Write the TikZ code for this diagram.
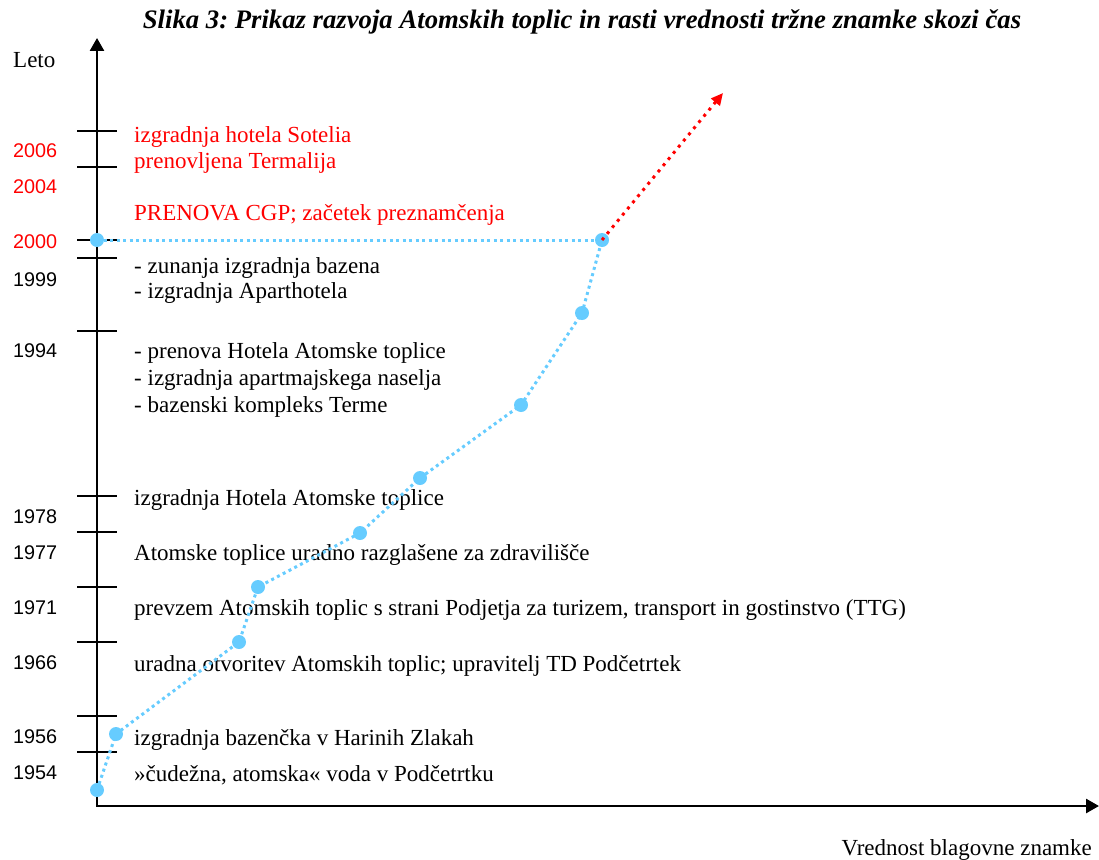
\documentclass[tikz,border=0pt]{standalone}
\usepackage{fontspec}
\setmainfont{Liberation Serif}
\newfontfamily\yearfont{Liberation Sans}
\usepackage{xcolor}
\usetikzlibrary{arrows.meta}
\frenchspacing
\definecolor{lightblue}{RGB}{102,204,255}
\tikzstyle{event}  = [anchor=base west, inner sep=0pt, font=\fontsize{23}{26}\selectfont]
\tikzstyle{year}   = [anchor=base west, inner sep=0pt, font=\yearfont\fontsize{19.8}{22}\selectfont]
\tikzstyle{tick}   = [line width=2pt]
\tikzstyle{axis}   = [line width=2.6pt, {Triangle[width=14pt,length=13pt]}-{Triangle[width=14pt,length=13pt]}]
\tikzstyle{growth} = [lightblue, line width=3pt, dash pattern=on 3pt off 3.5pt]
\tikzstyle{trend}  = [red, line width=3pt, dash pattern=on 3pt off 5pt, -{Triangle[width=11pt,length=12pt]}]
\tikzstyle{point}  = [circle, fill=lightblue, inner sep=0pt, minimum size=14pt]

\begin{document}
\begin{tikzpicture}[x=1pt,y=-1pt]
    \useasboundingbox (0,0) rectangle (1099,859);

    \node[anchor=base, inner sep=0pt, font=\bfseries\itshape\fontsize{26.7}{30}\selectfont] (title) at (582,29)
        {Slika 3: Prikaz razvoja Atomskih toplic in rasti vrednosti tržne znamke skozi čas};

    % axes
    \coordinate (o) at (97,806);
    \coordinate (ytop) at (97,38);
    \coordinate (xend) at (1099,806);
    \draw[axis] (ytop) -- (o) -- (xend);
    \node[event] (leto) at (13,67) {Leto};
    \node[event, anchor=base east] (vrednost) at (1092,855) {Vrednost blagovne znamke};

    % ticks on the year axis
    \foreach \y in {131,167,240,258,331,496,532,587,642,716,752}
        \draw[tick] (77,\y) -- (117,\y);

    % years
    \node[year, red] (y2006) at (13,157) {2006};
    \node[year, red] (y2004) at (13,193) {2004};
    \node[year, red] (y2000) at (13,248) {2000};
    \node[year] (y1999) at (13,286) {1999};
    \node[year] (y1994) at (13,357) {1994};
    \node[year] (y1978) at (13,523) {1978};
    \node[year] (y1977) at (13,559) {1977};
    \node[year] (y1971) at (13,614) {1971};
    \node[year] (y1966) at (13,669) {1966};
    \node[year] (y1956) at (13,743) {1956};
    \node[year] (y1954) at (13,779) {1954};

    % events
    \node[event, red] (e1) at (134,142) {izgradnja hotela Sotelia};
    \node[event, red] (e2) at (134,168) {prenovljena Termalija};
    \node[event, red] (e3) at (134,220) {PRENOVA CGP; začetek preznamčenja};
    \node[event] (e4) at (134,273) {- zunanja izgradnja bazena};
    \node[event] (e5) at (134,298) {- izgradnja Aparthotela};
    \node[event] (e6) at (134,358) {- prenova Hotela Atomske toplice};
    \node[event] (e7) at (134,385) {- izgradnja apartmajskega naselja};
    \node[event] (e8) at (134,412) {- bazenski kompleks Terme};
    \node[event] (e9) at (134,505) {izgradnja Hotela Atomske toplice};
    \node[event] (e10) at (134,560) {Atomske toplice uradno razglašene za zdravilišče};
    \node[event] (e11) at (134,615) {prevzem Atomskih toplic s strani Podjetja za turizem, transport in gostinstvo (TTG)};
    \node[event] (e12) at (134,671) {uradna otvoritev Atomskih toplic; upravitelj TD Podčetrtek};
    \node[event] (e13) at (134,745) {izgradnja bazenčka v Harinih Zlakah};
    \node[event] (e14) at (134,781) {»čudežna, atomska« voda v Podčetrtku};

    % brand value curve
    \coordinate (c1) at (97,790);
    \coordinate (c2) at (116,734);
    \coordinate (c3) at (239,642);
    \coordinate (c4) at (258,587);
    \coordinate (c5) at (360,533);
    \coordinate (c6) at (420,478);
    \coordinate (c7) at (521,405);
    \coordinate (c8) at (582,313);
    \coordinate (c9) at (602,240);
    \coordinate (c0) at (97,240);
    \draw[growth] (c1) -- (c2) -- (c3) -- (c4) -- (c5) -- (c6) -- (c7) -- (c8) -- (c9);
    \draw[growth] (c0) -- (c9);
    \foreach \p in {c0,c1,c2,c3,c4,c5,c6,c7,c8,c9}
        \node[point] (dot-\p) at (\p) {};

    \coordinate (trendend) at (723,93);
    \draw[trend] (c9) -- (trendend);
\end{tikzpicture}
\end{document}
